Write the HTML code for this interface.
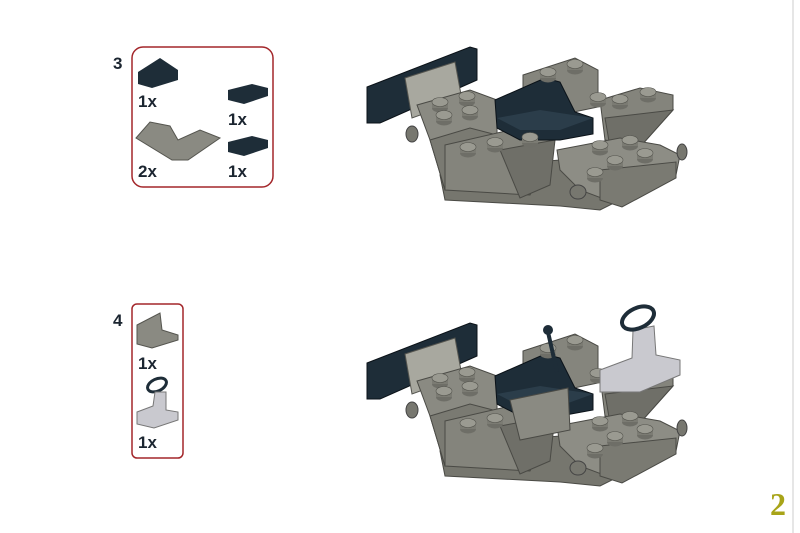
<!DOCTYPE html><html><head><style>
body{margin:0;background:#fff;}
svg{display:block}
text{font-family:"Liberation Sans",sans-serif;font-weight:bold;fill:#1b2530}
</style></head><body>
<svg width="800" height="533" viewBox="0 0 800 533">
<defs>
<g id="stud"><ellipse cx="0" cy="3" rx="8" ry="4.5" fill="#6e6e67"/><rect x="-8" y="-3" width="16" height="6" fill="#7b7b73"/><ellipse cx="0" cy="-3" rx="8" ry="4.5" fill="#9a9a91" stroke="#55554f" stroke-width="0.6"/></g>
<g id="car">
<!-- plate -->
<polygon points="367,87 470,47 477,49 477,80 380,123 367,123" fill="#1e2d38" stroke="#0b1218"/>
<polygon points="405,78 455,62 462,100 412,118" fill="#a8a89f" stroke="#55554f"/>
<!-- back block -->
<polygon points="523,75 575,58 598,70 598,107 545,118 523,110" fill="#85857d" stroke="#4a4a45"/>
<!-- main base -->
<polygon points="440,175 500,165 560,160 600,170 640,160 670,165 660,180 600,210 560,206 445,200" fill="#76766e" stroke="#4a4a45"/>
<!-- left wedges -->
<polygon points="417,105 470,90 497,100 497,150 470,160 445,190 430,140" fill="#8a8a82" stroke="#4a4a45"/>
<polygon points="430,140 470,128 497,135 497,190 445,190" fill="#7a7a72" stroke="#4a4a45"/>
<polygon points="445,145 510,130 555,140 530,195 445,190" fill="#84847c" stroke="#4a4a45"/>
<polygon points="500,150 555,140 550,185 520,198" fill="#6f6f68" stroke="#4a4a45"/>
<!-- right wedge -->
<polygon points="600,100 640,88 673,95 673,110 640,147 605,140" fill="#84847c" stroke="#4a4a45"/>
<polygon points="605,118 673,110 640,147 610,147" fill="#6f6f68" stroke="#4a4a45"/>
<!-- front plate -->
<polygon points="557,150 620,138 660,145 680,155 676,175 620,205 580,190 560,170" fill="#8d8d85" stroke="#4a4a45"/>
<polygon points="600,170 676,162 676,178 622,207 600,200" fill="#7a7a72" stroke="#4a4a45"/>
<!-- seat -->
<polygon points="495,100 545,78 560,82 575,112 593,118 593,134 560,140 520,140 497,128" fill="#1e2d38" stroke="#0b1218"/>
<polygon points="497,118 540,110 593,118 560,130 520,130" fill="#2b3d4a"/>
<ellipse cx="412" cy="134" rx="6" ry="8" fill="#77776f" stroke="#444"/>
<ellipse cx="578" cy="192" rx="8" ry="7" fill="#77776f" stroke="#444"/>
<ellipse cx="682" cy="152" rx="5" ry="8" fill="#77776f" stroke="#444"/>
<use href="#stud" x="440" y="105"/><use href="#stud" x="467" y="99"/><use href="#stud" x="444" y="118"/><use href="#stud" x="470" y="113"/>
<use href="#stud" x="468" y="150"/><use href="#stud" x="495" y="145"/><use href="#stud" x="530" y="140"/>
<use href="#stud" x="575" y="67"/><use href="#stud" x="548" y="75"/>
<use href="#stud" x="600" y="148"/><use href="#stud" x="630" y="143"/><use href="#stud" x="615" y="163"/><use href="#stud" x="645" y="156"/><use href="#stud" x="595" y="175"/>
<use href="#stud" x="620" y="102"/><use href="#stud" x="648" y="95"/><use href="#stud" x="598" y="100"/>
</g>
</defs>
<line x1="793" y1="0" x2="793" y2="533" stroke="#ccc" stroke-width="1"/>
<!-- Step 3 -->
<text x="113" y="69" font-size="17">3</text>
<rect x="132" y="47" width="141" height="140" rx="11" fill="none" stroke="#a3262a" stroke-width="1.5"/>
<polygon points="138,72 160,58 178,70 178,80 152,88 138,84" fill="#1e2d38"/>
<text x="138" y="107" font-size="17">1x</text>
<polygon points="228,90 252,84 268,88 268,96 244,104 228,100" fill="#1e2d38"/>
<text x="228" y="125" font-size="17">1x</text>
<polygon points="228,142 252,136 268,140 268,148 244,156 228,152" fill="#1e2d38"/>
<text x="228" y="177" font-size="17">1x</text>
<polygon points="136,138 150,122 170,126 178,140 200,130 220,138 188,160 172,160" fill="#8a8a82" stroke="#55554f"/>
<text x="138" y="177" font-size="17">2x</text>
<use href="#car"/>
<!-- Step 4 -->
<text x="113" y="326" font-size="17">4</text>
<rect x="132" y="304" width="51" height="154" rx="5" fill="none" stroke="#a3262a" stroke-width="1.5"/>
<polygon points="137,325 160,313 162,330 178,335 178,340 152,348 137,344" fill="#8a8a82" stroke="#55554f"/>
<text x="138" y="369" font-size="17">1x</text>
<ellipse cx="157" cy="385" rx="10" ry="6" fill="none" stroke="#1e2d38" stroke-width="3" transform="rotate(-25 157 385)"/>
<polygon points="137,412 153,406 155,392 166,392 166,410 178,412 178,420 154,428 137,424" fill="#c9c9cf" stroke="#777"/>
<text x="138" y="448" font-size="17">1x</text>
<use href="#car" y="276"/>
<polygon points="600,370 632,358 633,330 654,326 656,355 680,360 680,375 640,392 600,392" fill="#c9c9cf" stroke="#777"/>
<ellipse cx="638" cy="318" rx="17" ry="10" fill="none" stroke="#1e2d38" stroke-width="4" transform="rotate(-25 638 318)"/>
<line x1="548" y1="332" x2="557" y2="372" stroke="#1e2d38" stroke-width="4"/>
<circle cx="548" cy="330" r="5" fill="#1e2d38"/>
<polygon points="510,400 568,388 570,430 520,440" fill="#8a8a82" stroke="#4a4a45"/>
<text x="770" y="515" font-size="32" style="font-family:'Liberation Serif',serif;fill:#a8a418">2</text>
</svg>
</body></html>
